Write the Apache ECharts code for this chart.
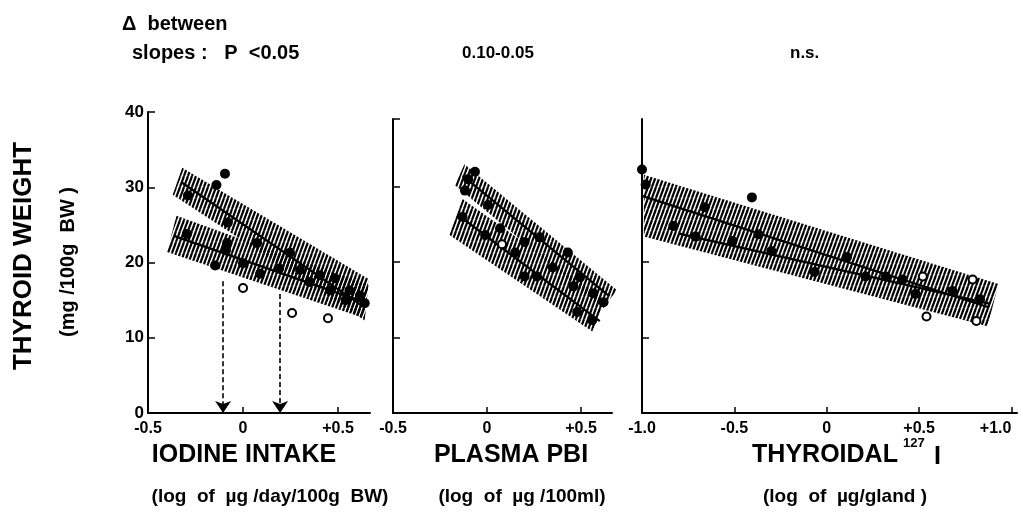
<!DOCTYPE html>
<html><head><meta charset="utf-8">
<script src="https://cdn.jsdelivr.net/npm/echarts@6/dist/echarts.min.js"></script>
<style>html,body{margin:0;padding:0;background:#fff}#c{width:1023px;height:516px}</style>
</head><body><div id="c"></div>
<script>
// ---------- data ----------
const yTicks = [0, 10, 20, 30, 40];
const x1Ticks = [-0.5, 0, 0.5];
const x1TickLabels = ['-0.5', '0', '+0.5'];
const x2Ticks = [-0.5, 0, 0.5];
const x2TickLabels = ['-0.5', '0', '+0.5'];
const x3Ticks = [-1, -0.5, 0, 0.5, 1];
const x3TickLabels = ['-1.0', '-0.5', '0', '+0.5', '+1.0'];

// Panel 1: iodine intake
const p1Filled = [[-0.29,28.9],[-0.14,30.3],[-0.095,31.8],[-0.295,23.8],[-0.08,25.3],[-0.084,22.6],[-0.09,21.6],[-0.147,19.6],[0.074,22.6],[0.0,19.9],[0.09,18.5],[0.247,21.3],[0.19,19.2],[0.3,19.0],[0.35,17.4],[0.405,18.3],[0.46,16.3],[0.484,17.9],[0.54,15.0],[0.56,16.3],[0.615,15.6],[0.64,14.6]];
const p1Open = [[0.0,16.6],[0.258,13.3],[0.447,12.6]];
const p1LineA = [[-0.32,30.6],[0.63,14.2]];
const p1LineB = [[-0.36,23.5],[0.63,14.8]];
const p1BandA = [[-0.32,32.6],[0.66,17.8],[0.64,12.3],[-0.37,29.0]];
const p1BandB = [[-0.35,26.2],[0.66,17.0],[0.64,12.6],[-0.40,21.4]];
const p1Arrows = [[-0.105,17.5],[0.195,15.8]];

// Panel 2: plasma PBI
const p2Filled = [[-0.064,32],[-0.1,31],[-0.117,29.5],[0.005,27.6],[-0.13,26],[-0.01,23.6],[0.07,24.5],[0.15,21.3],[0.2,22.7],[0.28,23.3],[0.2,18.1],[0.266,18.1],[0.35,19.3],[0.43,21.3],[0.495,18],[0.46,16.8],[0.565,15.9],[0.62,14.7],[0.48,13.4],[0.56,12.3]];
const p2Open = [[0.08,22.4]];
const p2LineA = [[-0.13,31.5],[0.65,15.5]];
const p2LineB = [[-0.14,26.0],[0.60,12.2]];
const p2BandA = [[-0.12,33.0],[0.69,16.3],[0.62,13.9],[-0.17,30.2]];
const p2BandB = [[-0.13,28.4],[0.63,15.0],[0.56,10.8],[-0.20,23.6]];

// Panel 3: thyroidal 127I
const p3Filled = [[-1.0,32.3],[-0.98,30.3],[-0.405,28.6],[-0.66,27.3],[-0.83,24.8],[-0.71,23.4],[-0.51,22.8],[-0.37,23.7],[-0.3,21.5],[-0.065,18.7],[0.11,20.7],[0.21,18.1],[0.32,18.1],[0.41,17.7],[0.48,15.8],[0.68,16.2],[0.83,15.1]];
const p3Open = [[0.52,18.1],[0.79,17.7],[0.54,12.8],[0.81,12.2]];
const p3LineA = [[-1.0,28.8],[0.88,14.0]];
const p3LineB = [[-0.8,23.8],[0.88,14.5]];
const p3Band = [[-0.99,31.6],[0.93,17.1],[0.87,11.5],[-0.99,23.4]];

// ---------- rendering ----------
function makeHatch() {
  const c = document.createElement('canvas');
  c.width = 4; c.height = 11;
  const g = c.getContext('2d');
  g.strokeStyle = '#000'; g.lineWidth = 2.2;
  for (const dx of [-4, 0, 4]) { g.beginPath(); g.moveTo(dx, 11); g.lineTo(dx + 4, 0); g.stroke(); }
  return c;
}
const hatch = { image: makeHatch(), repeat: 'repeat' };
const FONT = '"Liberation Sans", Arial, sans-serif';

function band(idx, pts) {
  return { type: 'custom', xAxisIndex: idx, yAxisIndex: idx, data: [0], silent: true, z: 1,
    renderItem: (params, api) => ({ type: 'polygon', shape: { points: pts.map(p => api.coord(p)) }, style: { fill: hatch } }) };
}
function line(idx, d) {
  return { type: 'line', xAxisIndex: idx, yAxisIndex: idx, data: d, symbol: 'none', silent: true, z: 3,
    lineStyle: { color: '#000', width: 2.2 } };
}
function filled(idx, d) {
  return { type: 'scatter', xAxisIndex: idx, yAxisIndex: idx, data: d, symbolSize: 10, silent: true, z: 4,
    itemStyle: { color: '#000', opacity: 1 } };
}
function open(idx, d) {
  return { type: 'scatter', xAxisIndex: idx, yAxisIndex: idx, data: d, symbolSize: 8, silent: true, z: 5,
    itemStyle: { color: '#fff', borderColor: '#000', borderWidth: 2, opacity: 1 } };
}
function xAxis(idx, min, max, ticks, labels, tickVals, edgeAlign) {
  const lab = { show: true, customValues: ticks, color: '#000', fontFamily: FONT, fontWeight: 'bold', fontSize: 16, margin: 8,
    formatter: v => { const i = ticks.findIndex(t => Math.abs(t - v) < 1e-6); return i >= 0 ? labels[i] : ''; } };
  if (edgeAlign) { lab.alignMaxLabel = 'right'; }
  return { type: 'value', gridIndex: idx, min, max, interval: 0.5,
    axisLine: { show: true, onZero: false, lineStyle: { color: '#000', width: 2 } },
    axisTick: { show: true, inside: true, length: 6, customValues: tickVals, lineStyle: { color: '#000', width: 1.5 } },
    axisLabel: lab,
    splitLine: { show: false } };
}
function yAxis(idx, max, showLabels, tickVals) {
  return { type: 'value', gridIndex: idx, min: 0, max, interval: 10,
    axisLine: { show: true, onZero: false, lineStyle: { color: '#000', width: 2 } },
    axisTick: { show: true, inside: true, length: 7, customValues: tickVals, lineStyle: { color: '#000', width: 1.5 } },
    axisLabel: { show: showLabels, customValues: yTicks, color: '#000', fontFamily: FONT, fontWeight: 'bold', fontSize: 17, margin: 4 },
    splitLine: { show: false } };
}
function txt(x, y, s, size, opts) {
  return Object.assign({ type: 'text', x, y, style: { text: s, fill: '#000', font: 'bold ' + size + 'px ' + FONT,
    textAlign: (opts && opts.align) || 'left', textVerticalAlign: 'middle' } }, opts && opts.rot ? { rotation: opts.rot } : {});
}

const chart = echarts.init(document.getElementById('c'), null, { renderer: 'canvas' });
chart.setOption({
  backgroundColor: '#fff',
  animation: false,
  grid: [
    { left: 148, top: 112, width: 222, height: 301, containLabel: false, outerBoundsMode: 'none' },
    { left: 393, top: 119, width: 219, height: 294, containLabel: false, outerBoundsMode: 'none' },
    { left: 642, top: 119, width: 375, height: 294, containLabel: false, outerBoundsMode: 'none' }
  ],
  xAxis: [
    xAxis(0, -0.5, 0.668, x1Ticks, x1TickLabels, [0, 0.5], false),
    xAxis(1, -0.5, 0.665, x2Ticks, x2TickLabels, [0, 0.5], false),
    xAxis(2, -1, 1.03, x3Ticks, x3TickLabels, [-0.5, 0, 0.5, 1], true)
  ],
  yAxis: [
    yAxis(0, 40, true, [10, 20, 30, 40]),
    yAxis(1, 39, false, [10, 20, 30, 39]),
    yAxis(2, 39, false, [10, 20, 30])
  ],
  series: [
    band(0, p1BandA), band(0, p1BandB), line(0, p1LineA), line(0, p1LineB), filled(0, p1Filled), open(0, p1Open),
    { type: 'line', xAxisIndex: 0, yAxisIndex: 0, data: [[-0.5, 0]], symbol: 'none', lineStyle: { width: 0 }, silent: true, z: 6,
      markLine: { silent: true, symbol: ['none', 'arrow'], symbolSize: 12, animation: false,
        lineStyle: { type: [5, 3], color: '#000', width: 1.6 }, label: { show: false },
        data: p1Arrows.map(a => [{ coord: [a[0], a[1]] }, { coord: [a[0], 0] }]) } },
    band(1, p2BandA), band(1, p2BandB), line(1, p2LineA), line(1, p2LineB), filled(1, p2Filled), open(1, p2Open),
    band(2, p3Band), line(2, p3LineA), line(2, p3LineB), filled(2, p3Filled), open(2, p3Open)
  ],
  graphic: [
    txt(122, 24, 'Δ  between', 20),
    txt(132, 53, 'slopes :   P  <0.05', 20),
    txt(462, 53, '0.10-0.05', 17),
    txt(790, 53, 'n.s.', 17),
    txt(24, 256, 'THYROID WEIGHT', 26, { align: 'center', rot: Math.PI / 2 }),
    txt(68, 262, '(mg /100g  BW )', 20, { align: 'center', rot: Math.PI / 2 }),
    txt(244, 455, 'IODINE INTAKE', 25, { align: 'center' }),
    txt(511, 455, 'PLASMA PBI', 25, { align: 'center' }),
    txt(825, 455, 'THYROIDAL', 25, { align: 'center' }),
    txt(903, 443, '127', 13),
    txt(934, 457, 'I', 25),
    txt(270, 497, '(log  of  µg /day/100g  BW)', 19, { align: 'center' }),
    txt(522, 497, '(log  of  µg /100ml)', 19, { align: 'center' }),
    txt(845, 497, '(log  of  µg/gland )', 19, { align: 'center' })
  ]
});
</script></body></html>
